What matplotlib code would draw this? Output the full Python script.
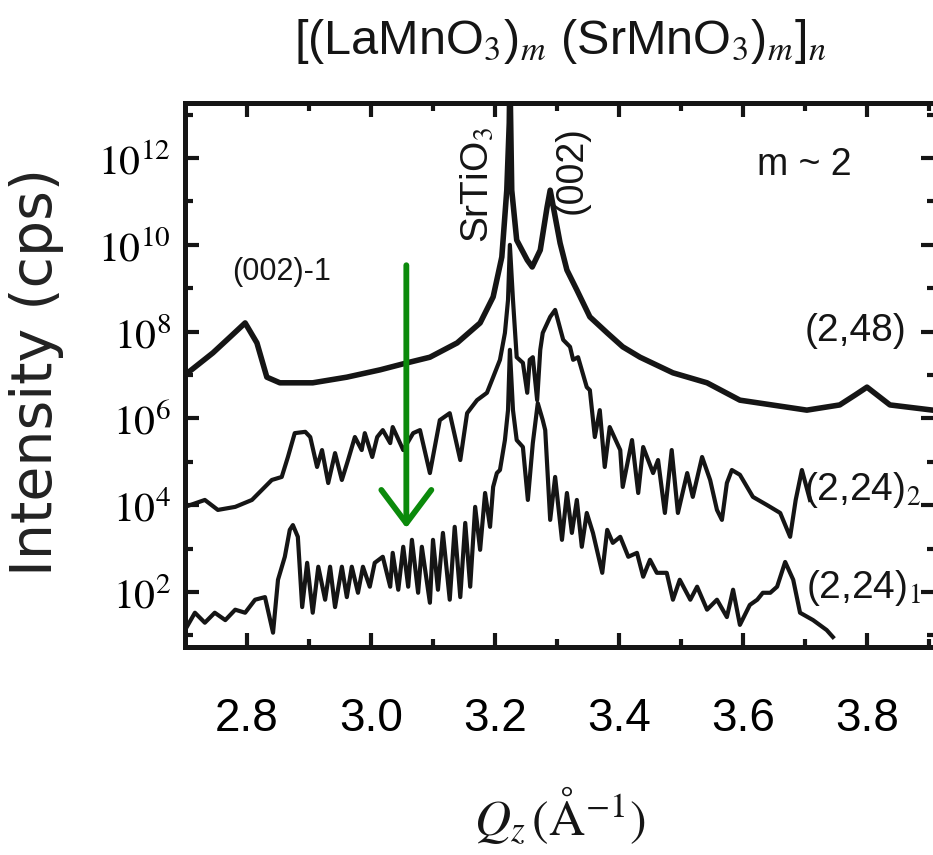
import matplotlib
matplotlib.use("Agg")
import matplotlib.pyplot as plt
import numpy as np
from matplotlib.ticker import FixedLocator, NullFormatter

plt.rcParams['mathtext.fontset'] = 'stix'

# ---------------- data ----------------
# (2,48): Qz (1/A) and log10 intensity (cps)
q_248 = [2.700, 2.745, 2.773, 2.797, 2.816, 2.832, 2.853, 2.906, 2.961, 3.015,
         3.058, 3.095, 3.139, 3.176, 3.197, 3.211, 3.219, 3.223, 3.224, 3.227,
         3.235, 3.252, 3.260, 3.273, 3.284, 3.289, 3.305, 3.316, 3.332, 3.353,
         3.381, 3.406, 3.434, 3.487, 3.542, 3.595, 3.703, 3.756, 3.781, 3.800,
         3.837, 3.906]
lg_248 = [7.00, 7.51, 7.88, 8.20, 7.74, 6.95, 6.82, 6.82, 6.95, 7.12,
          7.28, 7.41, 7.74, 8.20, 8.80, 9.72, 11.26, 12.81, 14.00, 11.26,
          10.11, 9.65, 9.49, 9.88, 10.87, 11.26, 10.04, 9.42, 8.96, 8.34,
          7.97, 7.65, 7.41, 7.05, 6.82, 6.42, 6.19, 6.31, 6.54, 6.72,
          6.31, 6.19]

# (2,24)_2
q_224b = [2.700, 2.732, 2.753, 2.781, 2.808, 2.824, 2.840, 2.856, 2.866, 2.877,
          2.894, 2.902, 2.913, 2.921, 2.931, 2.942, 2.953, 2.963, 2.974, 2.985,
          2.990, 3.002, 3.010, 3.019, 3.031, 3.035, 3.052, 3.068, 3.079, 3.095,
          3.111, 3.127, 3.144, 3.155, 3.171, 3.187, 3.197, 3.208, 3.216, 3.221,
          3.224, 3.229, 3.235, 3.245, 3.252, 3.256, 3.261, 3.268, 3.273, 3.277,
          3.289, 3.297, 3.310, 3.321, 3.326, 3.334, 3.348, 3.353, 3.361, 3.369,
          3.377, 3.385, 3.402, 3.406, 3.421, 3.431, 3.439, 3.455, 3.463, 3.474,
          3.485, 3.495, 3.510, 3.519, 3.534, 3.547, 3.558, 3.566, 3.574, 3.582,
          3.595, 3.616, 3.639, 3.660, 3.676, 3.685, 3.695, 3.708]
lg_224b = [3.96, 4.12, 3.89, 3.96, 4.12, 4.35, 4.58, 4.65, 5.11, 5.66,
           5.69, 5.57, 4.88, 5.27, 4.51, 5.20, 4.58, 5.04, 5.57, 5.27,
           5.66, 5.11, 5.57, 5.73, 5.43, 5.80, 5.27, 5.66, 5.73, 4.74,
           5.96, 6.12, 5.04, 6.12, 6.42, 6.59, 6.95, 7.35, 7.97, 8.73,
           10.00, 8.73, 7.41, 7.28, 6.59, 7.35, 7.41, 6.42, 7.58, 7.97,
           8.34, 8.50, 7.81, 7.65, 7.35, 7.41, 6.72, 6.65, 5.57, 6.19,
           4.88, 5.80, 5.27, 4.42, 5.50, 4.28, 5.34, 4.74, 5.04, 3.82,
           5.27, 3.82, 4.74, 4.19, 5.11, 4.58, 3.89, 3.66, 4.51, 4.81,
           4.70, 4.19, 4.00, 3.82, 3.27, 4.12, 4.81, 4.12]

# (2,24)_1
q_224a = [2.700, 2.716, 2.732, 2.748, 2.765, 2.781, 2.797, 2.813, 2.829, 2.842,
          2.850, 2.861, 2.869, 2.874, 2.882, 2.889, 2.897, 2.906, 2.915, 2.926,
          2.934, 2.942, 2.953, 2.961, 2.969, 2.979, 2.987, 2.998, 3.006, 3.019,
          3.031, 3.035, 3.044, 3.052, 3.060, 3.066, 3.076, 3.082, 3.095, 3.100,
          3.108, 3.116, 3.127, 3.135, 3.144, 3.152, 3.160, 3.168, 3.176, 3.184,
          3.192, 3.197, 3.203, 3.208, 3.216, 3.221, 3.224, 3.229, 3.235, 3.245,
          3.253, 3.261, 3.269, 3.277, 3.281, 3.289, 3.297, 3.308, 3.316, 3.324,
          3.332, 3.340, 3.348, 3.358, 3.373, 3.381, 3.390, 3.402, 3.415, 3.429,
          3.439, 3.450, 3.461, 3.477, 3.487, 3.498, 3.515, 3.526, 3.542, 3.558,
          3.574, 3.584, 3.595, 3.611, 3.623, 3.632, 3.644, 3.655, 3.668, 3.681,
          3.692, 3.713, 3.735, 3.745]
lg_224a = [1.12, 1.52, 1.29, 1.52, 1.35, 1.59, 1.52, 1.82, 1.88, 1.06,
           2.28, 2.81, 3.43, 3.54, 3.27, 1.65, 2.67, 1.52, 2.58, 1.82,
           2.58, 1.65, 2.58, 1.88, 2.58, 1.98, 2.58, 2.12, 2.67, 2.81,
           2.12, 2.90, 2.05, 3.04, 2.12, 3.20, 1.98, 3.04, 1.75, 3.20,
           2.05, 3.36, 1.82, 3.50, 1.88, 3.59, 2.12, 3.96, 2.97, 4.28,
           3.50, 4.42, 4.74, 4.81, 5.50, 6.19, 7.58, 6.19, 5.50, 5.34,
           4.12, 5.43, 6.35, 5.96, 5.73, 3.66, 4.65, 3.20, 4.28, 3.36,
           4.12, 3.04, 3.82, 3.36, 2.44, 3.43, 3.13, 3.27, 2.81, 2.90,
           2.35, 2.74, 2.44, 2.44, 1.82, 2.28, 1.82, 2.12, 1.59, 1.82,
           1.42, 2.05, 1.24, 1.70, 1.82, 1.98, 1.98, 2.12, 2.69, 2.28,
           1.52, 1.35, 1.12, 0.96]

x_major = [2.8, 3.0, 3.2, 3.4, 3.6, 3.8]
x_major_labels = ["2.8", "3.0", "3.2", "3.4", "3.6", "3.8"]
y_major_exp = [2, 4, 6, 8, 10, 12]
y_minor_exp = [1, 3, 5, 7, 9, 11, 13]

# arrow (Qz, log10 I) start and end
arrow_q = 3.057
arrow_from, arrow_to = 9.53, 3.47

# ---------------- figure ----------------
W, H = 933, 855
fig = plt.figure(figsize=(W / 100, H / 100), dpi=100)
ax = fig.add_axes([185 / W, (H - 647) / H, 750.2 / W, 544 / H])

sans = ['Liberation Sans', 'DejaVu Sans']

lc = '#151515'
ax.plot(q_248, 10 ** np.array(lg_248), color=lc, lw=4.0, solid_joinstyle='round')
ax.plot(q_224b, 10 ** np.array(lg_224b), color=lc, lw=3.0, solid_joinstyle='round')
ax.plot(q_224a, 10 ** np.array(lg_224a), color=lc, lw=3.0, solid_joinstyle='round')

ax.set_yscale('log')
ax.set_xlim(2.7, 3.91)
ax.set_ylim(10 ** 0.73, 10 ** 13.27)

ax.xaxis.set_major_locator(FixedLocator(x_major))
ax.xaxis.set_minor_locator(FixedLocator([2.9, 3.1, 3.3, 3.5, 3.7, 3.9]))
ax.set_xticklabels(x_major_labels, fontfamily=sans, fontsize=33)
ax.yaxis.set_major_locator(FixedLocator([10.0 ** e for e in y_major_exp]))
ax.yaxis.set_minor_locator(FixedLocator([10.0 ** e for e in y_minor_exp]))
ax.yaxis.set_minor_formatter(NullFormatter())
ax.set_yticklabels([r'$10^{%d}$' % e for e in y_major_exp], fontsize=30)

ax.tick_params(which='both', direction='in', top=True, right=True, width=3.0, color=lc)
ax.tick_params(which='major', length=10)
ax.tick_params(which='minor', length=6)
ax.tick_params(axis='x', which='major', pad=36)
ax.tick_params(axis='y', which='major', pad=10)
for s in ax.spines.values():
    s.set_linewidth(3.6)
    s.set_color(lc)

ax.annotate('', xy=(arrow_q, 10 ** arrow_to), xytext=(arrow_q, 10 ** arrow_from),
            arrowprops=dict(arrowstyle='->,head_length=0.6,head_width=0.45',
                            mutation_scale=40, lw=4.2, color='#0b8a0b',
                            shrinkA=0, shrinkB=0))

def ftext(x, y, s, **kw):
    fig.text(x / W, 1 - y / H, s, **kw)

ftext(560, 42, r'[(LaMnO$_3$)$_m$ (SrMnO$_3$)$_m$]$_n$', ha='center', va='center',
      fontsize=35, family=sans, color=lc)
ftext(37, 372, 'Intensity (cps)', rotation=90, ha='center', va='center',
      fontsize=41, family=['DejaVu Sans'], color='#222222')
ftext(560, 815, r'$Q_z\,(\mathsf{\AA}^{-1})$', ha='center', va='center',
      fontsize=36, color=lc)
ftext(282, 272, '(002)-1', ha='center', va='center', fontsize=22, family=sans, color=lc)
ftext(478, 185, r'SrTiO$_3$', rotation=90, ha='center', va='center', fontsize=28,
      family=sans, color=lc)
ftext(572, 170, '(002)', rotation=90, ha='center', va='center', fontsize=27,
      family=sans, color=lc)
ftext(852, 165, 'm ~ 2', ha='right', va='center', fontsize=27, family=sans, color=lc)
ftext(906, 331, '(2,48)', ha='right', va='center', fontsize=28, family=sans, color=lc)
ftext(921, 490, r'(2,24)$_2$', ha='right', va='center', fontsize=28, family=sans, color=lc)
ftext(921, 588, r'(2,24)$_1$', ha='right', va='center', fontsize=28, family=sans, color=lc)

fig.savefig('out.png', dpi=100)
